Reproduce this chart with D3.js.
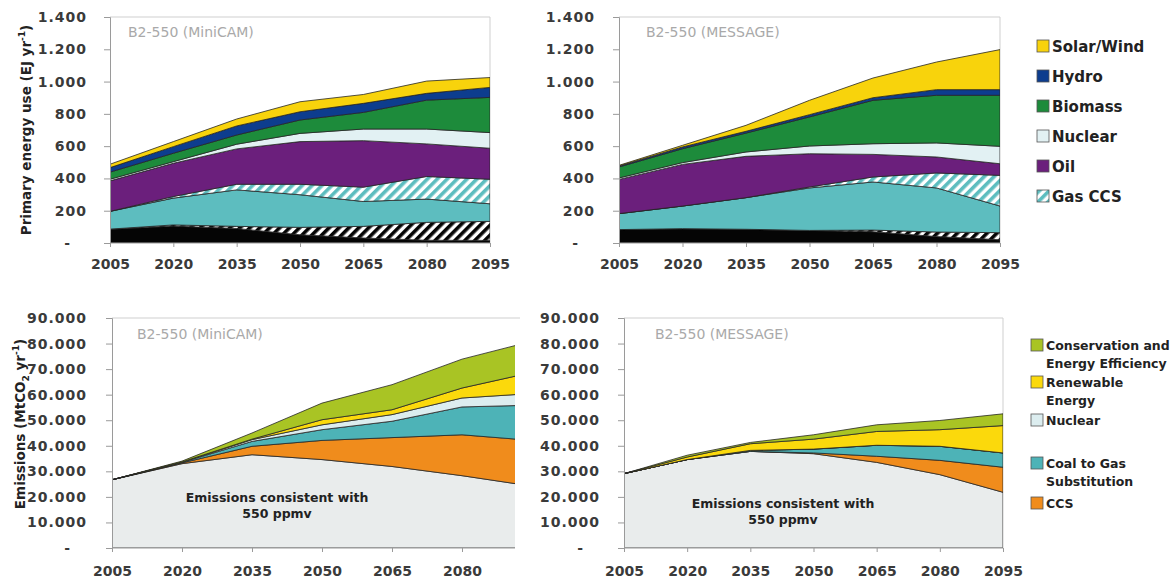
<!DOCTYPE html>
<html>
<head>
<meta charset="utf-8">
<script src="https://cdn.jsdelivr.net/npm/d3@7"></script>
<style>
    body { margin: 0; background: #fff; }
    svg text { font-family: "DejaVu Sans", Verdana, sans-serif; }
</style>
</head>
<body>
<div id="space"></div>
<script>
var years = [2005, 2020, 2035, 2050, 2065, 2080, 2095];

// Primary energy use (EJ/yr), stacked bottom -> top
var energyNames = ["Coal", "Coal CCS", "Gas", "Gas CCS", "Oil", "Nuclear", "Biomass", "Hydro", "Solar/Wind"];
var mcCoal     = [86, 105, 90, 51, 31, 17, 16];
var mcCoalCcs  = [0, 7, 13, 46, 72, 111, 118];
var mcGas      = [110, 166, 226, 202, 154, 144, 109];
var mcGasCcs   = [0, 10, 35, 65, 89, 140, 152];
var mcOil      = [189, 206, 219, 264, 288, 202, 192];
var mcNuclear  = [10, 10, 29, 51, 72, 92, 97];
var mcBiomass  = [44, 52, 57, 83, 103, 179, 218];
var mcHydro    = [28, 41, 56, 51, 56, 42, 62];
var mcSolar    = [21, 31, 43, 62, 55, 76, 61];

var msCoal     = [83, 89, 85, 78, 70, 40, 20];
var msCoalCcs  = [0, 0, 0, 0, 10, 28, 44];
var msGas      = [99, 140, 196, 263, 298, 273, 165];
var msGasCcs   = [0, 0, 0, 6, 31, 93, 190];
var msOil      = [212, 258, 256, 206, 140, 99, 72];
var msNuclear  = [9, 11, 27, 48, 66, 87, 108];
var msBiomass  = [68, 86, 117, 180, 269, 295, 316];
var msHydro    = [6, 11, 11, 14, 16, 35, 35];
var msSolar    = [4, 10, 37, 89, 122, 171, 248];

// Emissions (MtCO2/yr), stacked bottom -> top
var emisNames = ["Base", "CCS", "Coal to Gas", "Nuclear", "Renewable", "Conservation"];
var mcBase     = [26700, 33000, 36500, 34600, 31900, 28300, 24200];
var mcCcs      = [0, 300, 3300, 7500, 11300, 16000, 17900];
var mcSwitch   = [0, 200, 1900, 4200, 6400, 10900, 13800];
var mcNucE     = [0, 100, 700, 1900, 2600, 3500, 4550];
var mcRenew    = [0, 100, 200, 2000, 1900, 3900, 8250];
var mcConserve = [0, 300, 2400, 6500, 9800, 11300, 12200];

var msBase     = [29100, 34600, 37800, 36900, 33500, 28700, 21800];
var msCcs      = [0, 0, 0, 300, 2400, 5600, 9800];
var msSwitch   = [0, 0, 400, 1500, 4300, 5500, 5600];
var msNucE     = [0, 0, 0, 0, 0, 0, 0];
var msRenew    = [0, 1000, 2600, 3900, 5400, 6500, 10700];
var msConserve = [0, 700, 500, 1700, 2600, 3600, 4600];

var energyTicks = [0, 200, 400, 600, 800, 1000, 1200, 1400];
var emisTicks = [0, 10000, 20000, 30000, 40000, 50000, 60000, 70000, 80000, 90000];

var svg;
var euro = d3.formatLocale({ decimal: ",", thousands: ".", grouping: [3], currency: ["", ""] }).format(",");

var energyFill = {
    "Coal": "#050505",
    "Coal CCS": "url(#hatchCoal)",
    "Gas": "#5dbdbf",
    "Gas CCS": "url(#hatchGas)",
    "Oil": "#6b1f7c",
    "Nuclear": "#e2f1f3",
    "Biomass": "#1d8b3b",
    "Hydro": "#0d3d8e",
    "Solar/Wind": "#f8d30c"
};
var emisFill = {
    "Base": "#e9ecec",
    "CCS": "#f08c1c",
    "Coal to Gas": "#4db3b7",
    "Nuclear": "#dcedef",
    "Renewable": "#fbd90c",
    "Conservation": "#a9c424"
};

init();

function init()
{
    initSvg();

    drawPanel({ names: energyNames, fills: energyFill, rows: makeRows(energyNames, [mcCoal, mcCoalCcs, mcGas, mcGasCcs, mcOil, mcNuclear, mcBiomass, mcHydro, mcSolar]),
        x0: 110, x1: 490, clipRight: 490, y0: 243, y1: 17, max: 1400, ticks: energyTicks,
        labelPad: 17, xPad: 13, label: "B2-550 (MiniCAM)", lx: 128, ly: 37, rightBorder: true });
    drawPanel({ names: energyNames, fills: energyFill, rows: makeRows(energyNames, [msCoal, msCoalCcs, msGas, msGasCcs, msOil, msNuclear, msBiomass, msHydro, msSolar]),
        x0: 619, x1: 1000, clipRight: 1000, y0: 243, y1: 17, max: 1400, ticks: energyTicks,
        labelPad: 18, xPad: 13, label: "B2-550 (MESSAGE)", lx: 646, ly: 37, rightBorder: true });
    drawPanel({ names: emisNames, fills: emisFill, rows: makeRows(emisNames, [mcBase, mcCcs, mcSwitch, mcNucE, mcRenew, mcConserve]),
        x0: 112, x1: 532, clipRight: 515, y0: 548, y1: 318, max: 90000, ticks: emisTicks,
        labelPad: 19, xPad: 15, label: "B2-550 (MiniCAM)", lx: 137, ly: 339, rightBorder: false,
        note: [277, 502] });
    drawPanel({ names: emisNames, fills: emisFill, rows: makeRows(emisNames, [msBase, msCcs, msSwitch, msNucE, msRenew, msConserve]),
        x0: 624, x1: 1003, clipRight: 1003, y0: 548, y1: 318, max: 90000, ticks: emisTicks,
        labelPad: 18, xPad: 15, label: "B2-550 (MESSAGE)", lx: 655, ly: 339, rightBorder: true,
        note: [783, 508] });

    //Axis titles
    var t1 = svg.append("text")
                .attr("transform", "translate(31,130) rotate(-90)")
                .attr("text-anchor", "middle")
                .attr("font-size", "13.5")
                .attr("font-weight", "bold")
                .attr("fill", "#222");
    t1.append("tspan").text("Primary energy use (EJ yr");
    t1.append("tspan").attr("dy", -6).attr("font-size", "9").text("-1");
    t1.append("tspan").attr("dy", 6).text(")");

    var t2 = svg.append("text")
                .attr("transform", "translate(25,424) rotate(-90)")
                .attr("text-anchor", "middle")
                .attr("font-size", "13.5")
                .attr("font-weight", "bold")
                .attr("fill", "#222");
    t2.append("tspan").text("Emissions (MtCO");
    t2.append("tspan").attr("dy", 4).attr("font-size", "9").text("2");
    t2.append("tspan").attr("dy", -4).text(" yr");
    t2.append("tspan").attr("dy", -6).attr("font-size", "9").text("-1");
    t2.append("tspan").attr("dy", 6).text(")");

    drawLegends();
}

function makeRows(names, series) {
    return years.map(function (yr, i) {
        var row = { year: yr };
        names.forEach(function (k, j) { row[k] = series[j][i]; });
        return row;
    });
}

function initSvg() {
    svg = d3.select("#space").append("svg")
                             .attr("xmlns", "http://www.w3.org/2000/svg")
                             .attr("width", 1173)
                             .attr("height", 579);

    var defs = svg.append("defs");
    addHatch(defs, "hatchCoal", "#050505");
    addHatch(defs, "hatchGas", "#5dbdbf");
}

function addHatch(defs, id, color) {
    var p = defs.append("pattern")
                .attr("id", id)
                .attr("patternUnits", "userSpaceOnUse")
                .attr("width", 7)
                .attr("height", 7)
                .attr("patternTransform", "rotate(45)");
    p.append("rect").attr("width", 7).attr("height", 7).attr("fill", "#fff");
    p.append("rect").attr("width", 3.6).attr("height", 7).attr("fill", color);
}

/************************************************
				Panel
*************************************************/
function drawPanel(c) {
    var g = svg.append("g");
    var x = d3.scaleLinear().domain([2005, 2095]).range([c.x0, c.x1]);
    var y = d3.scaleLinear().domain([0, c.max]).range([c.y0, c.y1]);

    var clipId = "clip" + c.x0 + "_" + c.y0;
    svg.select("defs").append("clipPath").attr("id", clipId)
        .append("rect")
        .attr("x", c.x0).attr("y", c.y1)
        .attr("width", c.clipRight - c.x0).attr("height", c.y0 - c.y1);

    //Frame
    g.append("line")
     .attr("x1", c.x0).attr("x2", c.rightBorder ? c.clipRight : c.clipRight + 5)
     .attr("y1", c.y1).attr("y2", c.y1)
     .attr("stroke", "#cfcfcf");
    if (c.rightBorder) {
        g.append("line")
         .attr("x1", c.clipRight).attr("x2", c.clipRight)
         .attr("y1", c.y1).attr("y2", c.y0)
         .attr("stroke", "#cfcfcf");
    }

    var layers = d3.stack().keys(c.names)(c.rows);
    var area = d3.area()
                 .x(function (d) { return x(d.data.year); })
                 .y0(function (d) { return y(d[0]); })
                 .y1(function (d) { return y(d[1]); });

    g.append("g")
     .attr("clip-path", "url(#" + clipId + ")")
     .selectAll("path")
     .data(layers)
     .join("path")
     .attr("d", area)
     .attr("fill", function (d) { return c.fills[d.key]; })
     .attr("stroke", "#262626")
     .attr("stroke-width", 0.8)
     .attr("stroke-linejoin", "round");

    //Axes
    var yAxis = g.append("g")
                 .attr("transform", "translate(" + c.x0 + ",0)")
                 .call(d3.axisLeft(y).tickValues(c.ticks).tickSize(6).tickPadding(c.labelPad)
                        .tickFormat(function (v) { return v === 0 ? "-" : euro(v); }));
    var xAxis = g.append("g")
                 .attr("transform", "translate(0," + c.y0 + ")")
                 .call(d3.axisBottom(x).tickValues(years.filter(function (v) { return x(v) <= c.clipRight + 1; }))
                        .tickSize(4).tickPadding(c.xPad - 1).tickFormat(d3.format("d")));
    xAxis.select(".domain").attr("d", "M" + c.x0 + ",0H" + c.clipRight);

    [yAxis, xAxis].forEach(function (a) {
        a.selectAll(".domain, line").attr("stroke", "#9a9a9a");
        a.selectAll("text")
         .attr("font-family", "DejaVu Sans, Verdana, sans-serif")
         .attr("font-size", "14")
         .attr("font-weight", "bold")
         .attr("fill", "#3a3a3a");
    });
    yAxis.selectAll("text").attr("letter-spacing", "1");
    yAxis.selectAll(".tick")
         .filter(function (v) { return v === 0; })
         .select("text").attr("dx", -16);

    //Panel label
    g.append("text")
     .attr("x", c.lx)
     .attr("y", c.ly)
     .attr("font-size", "14")
     .attr("fill", "#a9a9a9")
     .text(c.label);

    if (c.note) {
        var note = g.append("text")
                    .attr("text-anchor", "middle")
                    .attr("font-size", "12.5")
                    .attr("font-weight", "bold")
                    .attr("fill", "#222");
        note.append("tspan").attr("x", c.note[0]).attr("y", c.note[1]).text("Emissions consistent with");
        note.append("tspan").attr("x", c.note[0]).attr("y", c.note[1] + 16).text("550 ppmv");
    }
}

/************************************************
				Legends
*************************************************/
function drawLegends() {
    var topItems = [
        { lines: ["Solar/Wind"], fill: energyFill["Solar/Wind"] },
        { lines: ["Hydro"], fill: energyFill["Hydro"] },
        { lines: ["Biomass"], fill: energyFill["Biomass"] },
        { lines: ["Nuclear"], fill: energyFill["Nuclear"] },
        { lines: ["Oil"], fill: energyFill["Oil"] },
        { lines: ["Gas CCS"], fill: energyFill["Gas CCS"] }
    ];
    var lg = svg.append("g");
    for (var i = 0; i < topItems.length; i++) {
        var yy = 46 + 30 * i;
        lg.append("rect")
          .attr("x", 1037).attr("y", yy - 6).attr("width", 12).attr("height", 12)
          .attr("fill", topItems[i].fill)
          .attr("stroke", "#555").attr("stroke-width", 0.8);
        lg.append("text")
          .attr("x", 1052).attr("y", yy + 5.5)
          .attr("font-size", "15")
          .attr("font-weight", "bold")
          .attr("fill", "#222")
          .text(topItems[i].lines[0]);
    }

    var botItems = [
        { lines: ["Conservation and", "Energy Efficiency"], fill: emisFill["Conservation"], y: 345 },
        { lines: ["Renewable", "Energy"], fill: emisFill["Renewable"], y: 382 },
        { lines: ["Nuclear"], fill: emisFill["Nuclear"], y: 420 },
        { lines: ["Coal to Gas", "Substitution"], fill: emisFill["Coal to Gas"], y: 463 },
        { lines: ["CCS"], fill: emisFill["CCS"], y: 503 }
    ];
    botItems.forEach(function (it) {
        lg.append("rect")
          .attr("x", 1031).attr("y", it.y - 6).attr("width", 12).attr("height", 12)
          .attr("fill", it.fill)
          .attr("stroke", "#555").attr("stroke-width", 0.8);
        it.lines.forEach(function (s, k) {
            lg.append("text")
              .attr("x", 1046).attr("y", it.y + 5 + 18 * k)
              .attr("font-size", "12.5")
              .attr("font-weight", "bold")
              .attr("fill", "#222")
              .text(s);
        });
    });
}
</script>
</body>
</html>
